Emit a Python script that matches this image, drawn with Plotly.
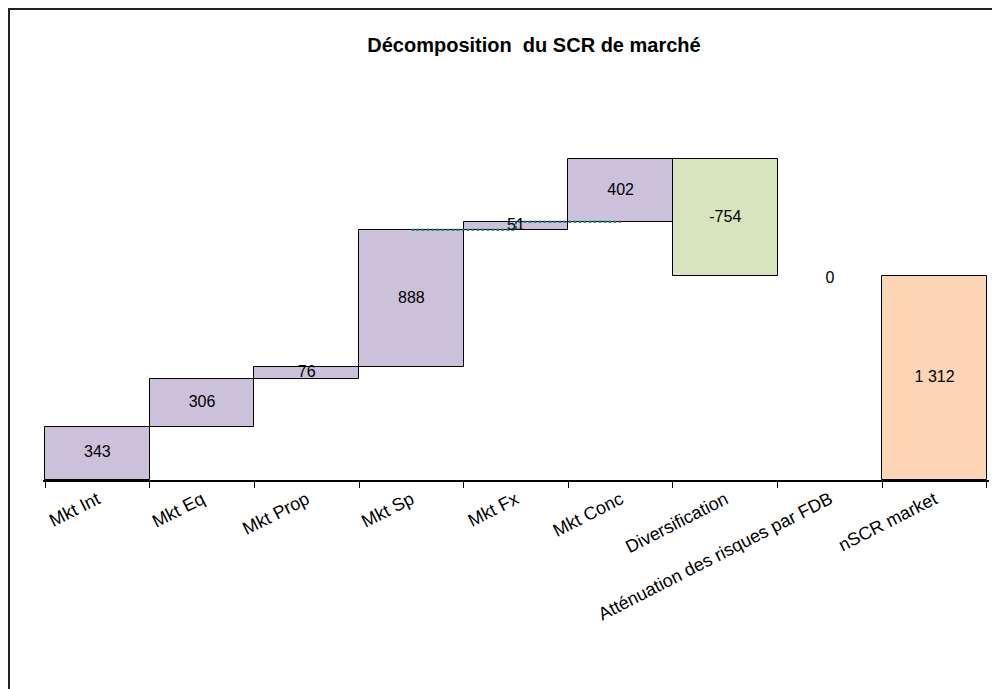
import plotly.graph_objects as go

categories = ["Mkt Int", "Mkt Eq", "Mkt Prop", "Mkt Sp", "Mkt Fx", "Mkt Conc",
              "Diversification", "Atténuation des risques par FDB", "nSCR market"]
values = [343, 306, 76, 888, 51, 402, -754, 0, 1312]
value_labels = ["343", "306", "76", "888", "51", "402", "-754", "0", "1 312"]
kinds = ["step", "step", "step", "step", "step", "step", "div", "step", "total"]

color_map = {"step": "#CCC1DA", "div": "#D7E4BD", "total": "#FCD5B5"}

# compute bases for the waterfall
bases = []
running = 0
for v, k in zip(values, kinds):
    if k == "total":
        bases.append(0)
    else:
        bases.append(running)
        running += v

tops = [b + v for b, v in zip(bases, values)]
centers = [b + v / 2 for b, v in zip(bases, values)]

FONT = "Liberation Sans, Arial"

fig = go.Figure()
fig.add_trace(go.Bar(
    x=categories, y=values, base=bases, width=1,
    marker=dict(color=[color_map[k] for k in kinds],
                line=dict(color="black", width=[1 if v != 0 else 0 for v in values])),
    hoverinfo="skip", showlegend=False,
))

# dotted connector between Mkt Sp, Mkt Fx and Mkt Conc
fig.add_trace(go.Scatter(
    x=categories[3:6], y=[tops[3], tops[4], tops[4]], mode="lines",
    line=dict(color="#10706F", width=2, dash="3px,2px", shape="hv"),
    hoverinfo="skip", showlegend=False,
))

label_y = [c if v != 0 else tops[i] - 20 for i, (c, v) in enumerate(zip(centers, values))]
fig.add_trace(go.Scatter(
    x=categories, y=label_y, mode="text", text=value_labels,
    textfont=dict(family=FONT, size=16, color="black"),
    hoverinfo="skip", showlegend=False,
))

# page body has an 8px margin: work in page coordinates and shift
OFF = 8
PAD = 0.02  # extra category padding so the outer bar edges are not clipped
cat_w = (987 - 45) / 9
W, H = 1000 - OFF, 689 - OFF
L = round(45 - PAD * cat_w) - OFF
T = 60 - OFF
plot_right = round(987 + PAD * cat_w) - OFF
axis_y = 480 - OFF
R = W - plot_right
B = H - axis_y
plot_h = H - T - B
plot_w = W - L - R
px_per_unit = 0.1552
ymax = plot_h / px_per_unit

def px(xp):
    return (xp - OFF - L) / plot_w

def py(yp):
    return (axis_y - (yp - OFF)) / plot_h

fig.update_layout(
    width=W, height=H,
    margin=dict(l=L, r=R, t=T, b=B),
    paper_bgcolor="white", plot_bgcolor="white",
    font=dict(family=FONT, color="black"),
    bargap=0,
    title=dict(text="<b>Décomposition  du SCR de marché</b>",
               x=(534 - OFF) / W, y=1 - (45 - OFF) / H, xanchor="center", yanchor="middle",
               font=dict(family=FONT, size=20, color="black")),
    xaxis=dict(type="category", range=[-0.5 - PAD, 8.5 + PAD], tickangle=-27,
               showline=True, linecolor="black", linewidth=2,
               ticks="outside", tickson="boundaries", ticklen=6, tickcolor="black", tickwidth=1,
               showgrid=False, zeroline=False,
               tickfont=dict(family=FONT, size=18, color="black")),
    yaxis=dict(range=[0, ymax], visible=False, showgrid=False, zeroline=False),
    shapes=[dict(type="rect", xref="paper", yref="paper",
                 x0=px(9), x1=px(1010), y0=py(700), y1=py(9),
                 line=dict(color="#222222", width=2), fillcolor="rgba(0,0,0,0)")],
)

fig.write_html("out.html")
